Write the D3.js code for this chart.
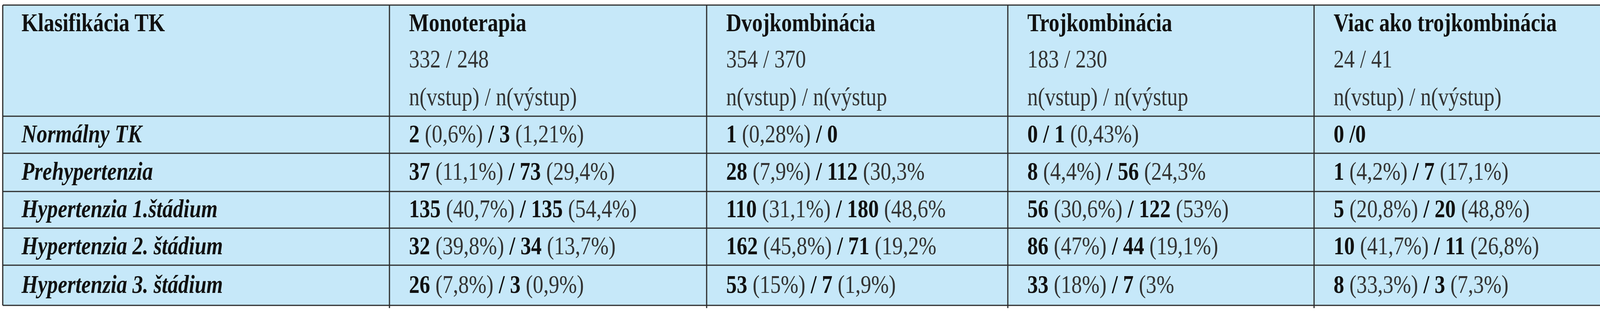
<!DOCTYPE html>
<html><head><meta charset="utf-8">
<script src="https://cdn.jsdelivr.net/npm/d3@7"></script>
<style>body{margin:0;background:#fff}</style>
</head><body>
<div id="chart"></div>
<script>
const columns = ["Monoterapia", "Dvojkombinácia", "Trojkombinácia", "Viac ako trojkombinácia"];
const totals = ["332 / 248", "354 / 370", "183 / 230", "24 / 41"];
const subLabels = ["n(vstup) / n(výstup)", "n(vstup) / n(výstup", "n(vstup) / n(výstup", "n(vstup) / n(výstup)"];
const rowLabels = ["Normálny TK", "Prehypertenzia", "Hypertenzia 1.štádium", "Hypertenzia 2. štádium", "Hypertenzia 3. štádium"];
// ** marks bold parts
const cells = [
  ["**2** (0,6%) **/ 3** (1,21%)", "**1** (0,28%) **/ 0**", "**0 / 1** (0,43%)", "**0 /0**"],
  ["**37** (11,1%) **/ 73** (29,4%)", "**28** (7,9%) **/ 112** (30,3%", "**8** (4,4%) **/ 56** (24,3%", "**1** (4,2%) **/ 7** (17,1%)"],
  ["**135** (40,7%) **/ 135** (54,4%)", "**110** (31,1%) **/ 180** (48,6%", "**56** (30,6%) **/ 122** (53%)", "**5** (20,8%) **/ 20** (48,8%)"],
  ["**32** (39,8%) **/ 34** (13,7%)", "**162** (45,8%) **/ 71** (19,2%", "**86** (47%) **/ 44** (19,1%)", "**10** (41,7%) **/ 11** (26,8%)"],
  ["**26** (7,8%) **/ 3** (0,9%)", "**53** (15%) **/ 7** (1,9%)", "**33** (18%) **/ 7** (3%", "**8** (33,3%) **/ 3** (7,3%)"]
];

const W = 4171, H = 800;
const svg = d3.select("#chart").append("svg").attr("width", W).attr("height", H)
  .style("font-family", "'Liberation Serif', 'Times New Roman', serif");

const colEdges = [7, 997, 1809, 2580, 3364, 4150];
const rowEdges = [13, 298, 393, 491, 585, 680, 783];
const fs = 66, sx = 0.82, pad = 50;

svg.append("rect").attr("x", colEdges[0]).attr("y", rowEdges[0])
  .attr("width", colEdges[5] - colEdges[0]).attr("height", rowEdges[6] - rowEdges[0])
  .attr("fill", "#c6e8f9");

const line = "#2b2b2b";
rowEdges.forEach(y => svg.append("line").attr("x1", colEdges[0]).attr("x2", colEdges[5])
  .attr("y1", y).attr("y2", y).attr("stroke", line).attr("stroke-width", 3));
colEdges.forEach((x, i) => svg.append("line").attr("x1", x).attr("x2", x)
  .attr("y1", rowEdges[0]).attr("y2", (i > 0 && i < 5) ? 790 : rowEdges[6])
  .attr("stroke", line).attr("stroke-width", 3));

function txt(x, y, s, opts) {
  return svg.append("text").attr("transform", `translate(${x},${y}) scale(${sx},1)`)
    .attr("font-size", fs)
    .attr("fill", "#111").attr("font-weight", opts && opts.bold ? "bold" : "normal")
    .attr("font-style", opts && opts.italic ? "italic" : "normal").text(s);
}

txt(colEdges[0] + 48, 80, "Klasifikácia TK", {bold: true});
columns.forEach((c, i) => {
  const x = colEdges[i + 1] + pad;
  txt(x, 80, c, {bold: true});
  txt(x, 173, totals[i]).attr("fill", "#333");
  txt(x, 270, subLabels[i]).attr("fill", "#333");
});

rowLabels.forEach((r, j) => {
  const yc = (rowEdges[j + 1] + rowEdges[j + 2]) / 2 + 19;
  txt(colEdges[0] + 48, yc, r, {bold: true, italic: true});
  cells[j].forEach((c, i) => {
    const t = txt(colEdges[i + 1] + pad, yc, "");
    c.split("**").forEach((part, k) => {
      if (!part) return;
      t.append("tspan").attr("font-weight", k % 2 ? "bold" : "normal")
        .attr("fill", k % 2 ? "#111" : "#333").text(part);
    });
  });
});
</script>
</body></html>
